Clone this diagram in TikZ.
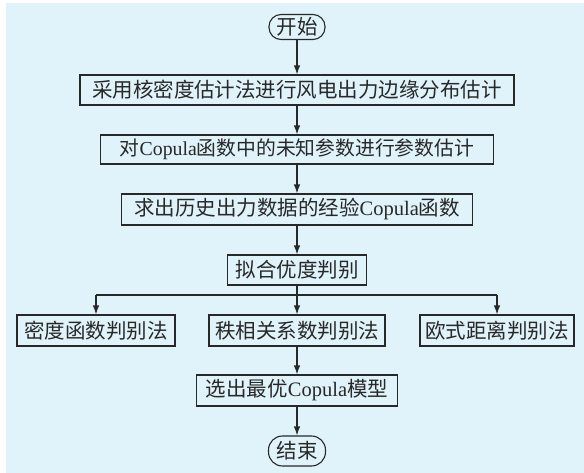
\documentclass[tikz,border=0pt]{standalone}
\usepackage{fontspec}
\setmainfont{Liberation Serif}
\newfontfamily\cjk{Noto Sans CJK SC}
\usetikzlibrary{arrows.meta}
\definecolor{bgblue}{RGB}{224,242,250}
\definecolor{ink}{RGB}{40,40,40}
\tikzset{
  every node/.style={font=\fontsize{20.5}{23}\selectfont, text=ink, inner sep=0pt},
  procbox/.style={draw=ink, line width=1.1pt, align=center},
  termbox/.style={draw=ink, line width=1.1pt, rounded corners=12pt, align=center},
  flow/.style={draw=ink, line width=1.2pt, -{Latex[length=9pt,width=6.5pt]}},
  plain/.style={draw=ink, line width=1.2pt}
}
\begin{document}
\begin{tikzpicture}[x=1pt,y=-1pt]
\useasboundingbox (0,0) rectangle (584,473);
\fill[bgblue] (6,3) rectangle (584,473);

\node[termbox, minimum width=56, minimum height=25] (start) at (297,27) {\cjk 开始};
\node[procbox, minimum width=434, minimum height=30] (b1) at (297,90) {\cjk 采用核密度估计法进行风电出力边缘分布估计};
\node[procbox, minimum width=393, minimum height=29, font=\fontsize{19.8}{23}\selectfont] (b2) at (297,149.5) {{\cjk 对}Copula{\cjk 函数中的未知参数进行参数估计}};
\node[procbox, minimum width=351, minimum height=31] (b3) at (297,209.5) {{\cjk 求出历史出力数据的经验}Copula{\cjk 函数}};
\node[procbox, minimum width=139, minimum height=30] (b4) at (297,270) {\cjk 拟合优度判别};
\node[procbox, minimum width=158, minimum height=31] (l) at (96,330.5) {\cjk 密度函数判别法};
\node[procbox, minimum width=176, minimum height=31] (m) at (297,330.5) {\cjk 秩相关系数判别法};
\node[procbox, minimum width=154, minimum height=31] (r) at (497,330.5) {\cjk 欧式距离判别法};
\node[procbox, minimum width=201, minimum height=31] (f) at (297,390.5) {{\cjk 选出最优}Copula{\cjk 模型}};
\node[termbox, minimum width=57, minimum height=30, rounded corners=14pt] (end) at (297,451) {\cjk 结束};

\coordinate (br) at (297,295);
\coordinate (brl) at (96,295);
\coordinate (brr) at (497,295);

\draw[flow] (start) -- (b1);
\draw[flow] (b1) -- (b2);
\draw[flow] (b2) -- (b3);
\draw[flow] (b3) -- (b4);
\draw[flow] (b4) -- (m);
\draw[plain] (brl) -- (brr);
\draw[flow] (brl) -- (l);
\draw[flow] (brr) -- (r);
\draw[flow] (m) -- (f);
\draw[flow] (f) -- (end);
\end{tikzpicture}
\end{document}
